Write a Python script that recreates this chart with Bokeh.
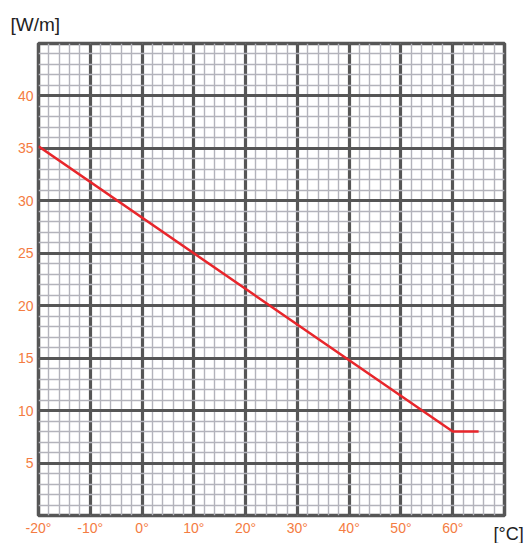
from bokeh.plotting import figure
from bokeh.models import FixedTicker, Range1d, Label
from bokeh.embed import file_html
from bokeh.resources import INLINE

# data
temp_c = [-20, 60, 65]
power_wm = [35.2, 8.0, 8.0]
x_ticks = [-20, -10, 0, 10, 20, 30, 40, 50, 60]
x_labels = ["-20°", "-10°", "0°", "10°", "20°", "30°", "40°", "50°", "60°"]
y_ticks = [5, 10, 15, 20, 25, 30, 35, 40]
x_grid_major = list(range(-20, 71, 10))
x_grid_minor = list(range(-20, 71, 2))
y_grid_major = list(range(0, 46, 5))
y_grid_minor = list(range(0, 46, 1))
y_unit = "[W/m]"
x_unit = "[°C]"

ORANGE = "#f47c42"
DARK = "#565656"
FONT = "Liberation Sans"

p = figure(width=526, height=543, output_backend="svg", toolbar_location=None,
           x_range=Range1d(-20, 70), y_range=Range1d(0, 45),
           min_border_left=38, min_border_right=22, min_border_top=43, min_border_bottom=28)
p.background_fill_color = "white"
p.border_fill_color = "white"
p.outline_line_color = DARK
p.outline_line_width = 3.5

p.xgrid.ticker = FixedTicker(ticks=x_grid_major, minor_ticks=x_grid_minor)
p.ygrid.ticker = FixedTicker(ticks=y_grid_major, minor_ticks=y_grid_minor)
for g in (p.xgrid, p.ygrid):
    g.grid_line_color = DARK
    g.grid_line_width = 3.2
    g.grid_line_alpha = 1
    g.minor_grid_line_color = "#b3b3bb"
    g.minor_grid_line_width = 1.4

p.xaxis.ticker = FixedTicker(ticks=x_ticks)
p.xaxis.major_label_overrides = {t: l for t, l in zip(x_ticks, x_labels)}
p.yaxis.ticker = FixedTicker(ticks=y_ticks)
for ax in (p.xaxis, p.yaxis):
    ax.axis_line_color = None
    ax.major_tick_line_color = None
    ax.minor_tick_line_color = None
    ax.major_tick_out = 0
    ax.major_tick_in = 0
    ax.minor_tick_out = 0
    ax.minor_tick_in = 0
    ax.major_label_text_color = ORANGE
    ax.major_label_text_font = FONT
    ax.major_label_text_font_size = "14px"
    ax.major_label_standoff = 5
p.xaxis.major_label_standoff = 4

# unit labels, placed in the top side panel so they are not clipped to the frame
p.add_layout(Label(x=-20, y=45, x_offset=-28, y_offset=19, text=y_unit,
                   text_baseline="alphabetic", text_align="left",
                   text_font=FONT, text_font_size="19px", text_color="#222222"), "above")
p.add_layout(Label(x=70, y=0, x_offset=-11, y_offset=-18, text=x_unit,
                   text_baseline="alphabetic", text_align="left",
                   text_font=FONT, text_font_size="18px", text_color="#222222"), "above")

p.line(temp_c, power_wm, line_color="#e8262b", line_width=2.5)

open("out.html", "w").write(file_html(p, INLINE))
